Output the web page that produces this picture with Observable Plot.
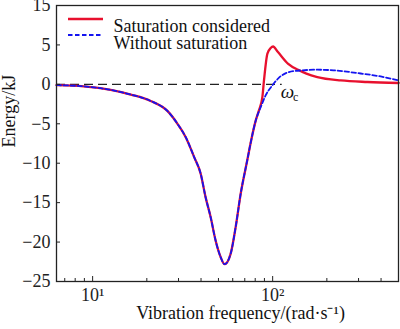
<!DOCTYPE html>
<html><head><meta charset="utf-8">
<script src="https://cdn.jsdelivr.net/npm/d3@7"></script>
<script src="https://cdn.jsdelivr.net/npm/@observablehq/plot@0.6"></script>
<style>
body{margin:0;background:#fff}
svg, svg text{font-family:"Liberation Serif","Times New Roman",serif !important}
</style>
</head><body><div id="chart"></div>
<script>
// Shared part of both curves (identical below ~80 rad/s)
const freqShared   = [6.3, 8.9, 12.6, 16.3, 21.0, 26.1, 29.6, 32.9, 36.6, 39.8, 42.4, 45.2, 48.2, 51.4, 54.1, 58.4, 62.3, 66.4, 72.3, 75.5, 80.5];
const energyShared = [-0.1, -0.25, -0.7, -1.3, -2.1, -3.4, -5.0, -6.7, -9.2, -11.3, -14.3, -16.8, -19.8, -21.9, -22.8, -21.5, -18.1, -13.9, -9.6, -7.4, -4.6];
// Saturation considered (continuation)
const freqSat   = [83.9, 87.7, 89.5, 93.5, 97.5, 100.5, 107, 122, 141, 154, 177, 239, 336, 501];
const energySat = [-3.3, -1.6, 0.5, 3.9, 4.6, 4.8, 4.1, 2.6, 1.75, 1.36, 0.93, 0.5, 0.3, 0.17];
// Without saturation (continuation)
const freqNoSat   = [85.8, 91.4, 99.6, 108.5, 123.2, 146, 177, 218, 296, 398, 501];
const energyNoSat = [-2.9, -1.4, -0.13, 0.85, 1.56, 1.78, 1.86, 1.78, 1.43, 1.0, 0.5];

const seriesNames = ["Saturation considered", "Without saturation"];
const seriesColors = ["#e8102e", "#1414f0"];
const xMajorTicks = [10, 100];
const xMajorLabels = ["10\u00b9", "10\u00b2"];
const xMinorTicks = [7, 8, 9, 20, 30, 40, 50, 60, 70, 80, 90, 200, 300, 400];
const yTicks = [-25, -20, -15, -10, -5, 0, 5, 10];
const yTickLabels = ["\u221225", "\u221220", "\u221215", "\u221210", "\u22125", "0", "5", "15"];
const xLabel = "Vibration frequency/(rad\u00b7s\u207b\u00b9)";
const yLabel = "Energy/kJ";
const zeroLineFreq = [6.3, 113];
const omegaAt = [110.8, -0.9];
const subCAt = [129.6, -1.6];

const sat = freqShared.map((f, i) => ({f, e: energyShared[i]}))
  .concat(freqSat.map((f, i) => ({f, e: energySat[i]})));
const noSat = freqShared.map((f, i) => ({f, e: energyShared[i]}))
  .concat(freqNoSat.map((f, i) => ({f, e: energyNoSat[i]})));

const ink = "#222";
const serif = "Liberation Serif";
const plot = Plot.plot({
  width: 400, height: 329,
  marginLeft: 56, marginRight: 2, marginTop: 5, marginBottom: 48,
  style: {fontFamily: serif, fontSize: "18px", color: ink, background: "white"},
  x: {type: "log", domain: [6.3, 500]},
  y: {domain: [-25, 10]},
  marks: [
    Plot.ruleY([0], {x1: zeroLineFreq[0], x2: zeroLineFreq[1], stroke: ink, strokeWidth: 1.3, strokeDasharray: "9,5"}),
    Plot.line(sat, {x: "f", y: "e", stroke: seriesColors[0], strokeWidth: 2.3, curve: "monotone-x"}),
    Plot.line(noSat, {x: "f", y: "e", stroke: seriesColors[1], strokeWidth: 1.8, strokeDasharray: "4.5,2.5", curve: "monotone-x"}),
    Plot.axisX({ticks: xMajorTicks, tickSize: 5, dy: -5, fill: "none", label: null, stroke: ink}),
    Plot.axisX({ticks: xMinorTicks, tickSize: 3, dy: -3, fill: "none", label: null, stroke: ink}),
    Plot.axisX({ticks: xMajorTicks, tickSize: 0, tickPadding: 7, label: null, fontFamily: serif,
      tickFormat: d => xMajorLabels[xMajorTicks.indexOf(d)], fontSize: 18}),
    Plot.axisY({ticks: yTicks, tickSize: 4, dx: 4, fill: "none", label: null, stroke: ink}),
    Plot.axisY({ticks: yTicks, tickSize: 0, tickPadding: 6, label: null, fontFamily: serif,
      tickFormat: d => yTickLabels[yTicks.indexOf(d)], fontSize: 18}),
    Plot.frame({stroke: ink, strokeWidth: 1.3}),
    Plot.text([seriesNames[0]], {frameAnchor: "top-left", dx: 57, dy: 14, textAnchor: "start", text: d => d, fontSize: 18, fontFamily: serif, fill: "#111"}),
    Plot.text([seriesNames[1]], {frameAnchor: "top-left", dx: 57, dy: 31, textAnchor: "start", text: d => d, fontSize: 18, fontFamily: serif, fill: "#111"}),
    Plot.text([xLabel], {frameAnchor: "bottom", dx: 13, dy: 37, text: d => d, fontSize: 18, fontFamily: serif, fill: "#111"}),
    Plot.text([yLabel], {frameAnchor: "left", dx: -47, dy: 4, rotate: -90, text: d => d, fontSize: 18, fontFamily: serif, fill: "#111"}),
    Plot.text([omegaAt], {x: d => d[0], y: d => d[1], text: () => "\u03c9", fontStyle: "italic", textAnchor: "start", fontSize: 19, fontFamily: serif, fill: "#111"}),
    Plot.text([subCAt], {x: d => d[0], y: d => d[1], text: () => "c", textAnchor: "start", fontSize: 12, fontFamily: serif, fill: "#111"})
  ]
});

const svg = d3.select(plot);
svg.attr("font-family", "'Liberation Serif', serif");
svg.selectAll("text").attr("font-family", "'Liberation Serif', serif");
// legend line samples inside the frame
const leg = svg.append("g");
leg.append("line").attr("x1", 68).attr("x2", 103).attr("y1", 19).attr("y2", 19)
  .attr("stroke", seriesColors[0]).attr("stroke-width", 2.3);
leg.append("line").attr("x1", 68).attr("x2", 103).attr("y1", 35).attr("y2", 35)
  .attr("stroke", seriesColors[1]).attr("stroke-width", 1.8).attr("stroke-dasharray", "4.5,2.5");

document.getElementById("chart").appendChild(plot);
</script>
</body></html>
